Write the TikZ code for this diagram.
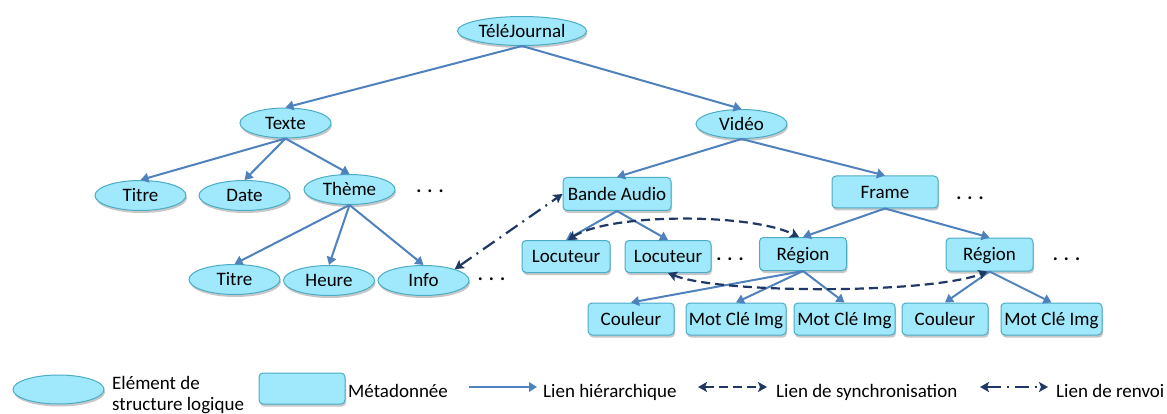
\documentclass[tikz,border=0pt]{standalone}
\usepackage{fontspec}
\setmainfont{Carlito}
\usetikzlibrary{shapes.geometric,arrows.meta,shadows}
\definecolor{nodefill}{HTML}{A0E8FB}
\definecolor{nodedraw}{HTML}{4BACC6}
\definecolor{hier}{HTML}{4F81BD}
\definecolor{navy}{HTML}{1F3864}
\begin{document}
\begin{tikzpicture}[x=1pt,y=-1pt,
  font=\fontsize{19}{21}\selectfont,
  elem/.style={ellipse, draw=nodedraw, fill=nodefill, line width=1pt,
    minimum width=91pt, minimum height=30pt, inner sep=0pt,
    text height=12.2pt, text depth=0pt,
    drop shadow={shadow xshift=1pt, shadow yshift=-2.5pt, fill=black, opacity=0.22}},
  meta/.style={rectangle, rounded corners=4pt, draw=nodedraw, fill=nodefill, line width=1pt,
    minimum height=32pt, inner sep=0pt, text height=12.2pt, text depth=0pt,
    drop shadow={shadow xshift=1pt, shadow yshift=-2.5pt, fill=black, opacity=0.22}},
  hierarrow/.style={draw=hier, line width=2pt, -{Triangle[length=8pt,width=9.5pt]}},
  syncarrow/.style={draw=navy, line width=2.2pt, dash pattern=on 9pt off 5pt,
    {Stealth[length=9pt,width=10pt,inset=2pt]}-{Stealth[length=9pt,width=10pt,inset=2pt]}},
  renvoiarrow/.style={draw=navy, line width=2.2pt, dash pattern=on 14pt off 6pt on 2pt off 6pt,
    {Stealth[length=9pt,width=10pt,inset=2pt]}-{Stealth[length=9pt,width=10pt,inset=2pt]}},
  dotsnode/.style={anchor=base, inner sep=0pt, font=\fontsize{19}{21}\selectfont\bfseries},
  legtext/.style={anchor=base west, inner sep=0pt}]
\useasboundingbox (0,0) rectangle (1167,414);

% logical structure elements
\node[elem, minimum width=129pt, minimum height=29pt] (tj) at (522,31) {TéléJournal};
\node[elem] (texte) at (285.5,123) {Texte};
\node[elem, minimum height=29pt] (video) at (741.5,124) {Vidéo};
\node[elem] (titre1) at (140.5,195.5) {Titre};
\node[elem] (date) at (244.5,195.5) {Date};
\node[elem] (theme) at (349.5,189.5) {Thème};
\node[elem] (titre2) at (234.5,279.5) {Titre};
\node[elem] (heure) at (329,280.5) {Heure};
\node[elem] (info) at (423.5,280.5) {Info};

% metadata
\node[meta, minimum width=108pt, minimum height=33pt] (bande) at (617,194) {Bande Audio};
\node[meta, minimum width=106pt] (frame) at (885,192) {Frame};
\node[meta, minimum width=88pt] (loc1) at (566,256.5) {Locuteur};
\node[meta, minimum width=86pt] (loc2) at (668,256.5) {Locuteur};
\node[meta, minimum width=87pt, minimum height=33pt] (reg1) at (803,254) {Région};
\node[meta, minimum width=87pt, minimum height=33pt] (reg2) at (989.5,254.5) {Région};
\node[meta, minimum width=86pt] (coul1) at (631,319) {Couleur};
\node[meta, minimum width=100pt] (mci1) at (736,319) {Mot Clé Img};
\node[meta, minimum width=101pt] (mci2) at (844.5,319) {Mot Clé Img};
\node[meta, minimum width=86pt] (coul2) at (945,319) {Couleur};
\node[meta, minimum width=101pt] (mci3) at (1051.5,319) {Mot Clé Img};

% ellipses (dots)
\node[dotsnode] (d1) at (430,192.3) {.\hspace{6pt}.\hspace{6pt}.};
\node[dotsnode] (d2) at (491.5,280.3) {.\hspace{6pt}.\hspace{6pt}.};
\node[dotsnode] (d3) at (730,260.3) {.\hspace{6pt}.\hspace{6pt}.};
\node[dotsnode] (d4) at (970,199.3) {.\hspace{6pt}.\hspace{6pt}.};
\node[dotsnode] (d5) at (1066.5,260.3) {.\hspace{6pt}.\hspace{6pt}.};

% hierarchical links
\draw[hierarrow] (tj.south) -- (texte.north);
\draw[hierarrow] (tj.south) -- (video.north);
\draw[hierarrow] (texte.south) -- (titre1.north);
\draw[hierarrow] (texte.south) -- (date.north);
\draw[hierarrow] (texte.south) -- (theme.north);
\draw[hierarrow] (theme.south) -- (titre2.north);
\draw[hierarrow] (theme.south) -- (heure.north);
\draw[hierarrow] (theme.south) -- (info.north);
\draw[hierarrow] (video.south) -- (bande.north);
\draw[hierarrow] (video.south) -- (frame.north);
\draw[hierarrow] (bande.south) -- (loc1.north);
\draw[hierarrow] (bande.south) -- (loc2.north);
\draw[hierarrow] (frame.south) -- (reg1.north);
\draw[hierarrow] (frame.south) -- (reg2.north);
\draw[hierarrow] (reg1.south) -- (coul1.north);
\draw[hierarrow] (reg1.south) -- (mci1.north);
\draw[hierarrow] (reg1.south) -- (mci2.north);
\draw[hierarrow] (reg2.south) -- (coul2.north);
\draw[hierarrow] (reg2.south) -- (mci3.north);

% synchronisation links
\draw[syncarrow] ([xshift=2pt]loc1.north) .. controls (610,213) and (750,213) .. ([xshift=-4pt]reg1.north);
\draw[syncarrow] (loc2.south) .. controls (720,294) and (930,294) .. ([xshift=-2pt]reg2.south);

% renvoi link
\draw[renvoiarrow] (info.20) -- (bande.west);

% legend
\node[elem, minimum width=91pt, minimum height=29pt] (legE) at (58.5,389.5) {};
\node[legtext] (legEt1) at (112,389) {Elément de};
\node[legtext] (legEt2) at (112,410) {structure logique};
\node[meta, minimum width=86pt, minimum height=31pt] (legB) at (302,388.5) {};
\node[legtext] (legBt) at (348,397) {Métadonnée};
\coordinate (h1) at (469,387);
\coordinate (h2) at (537,387);
\draw[hierarrow] (h1) -- (h2);
\node[legtext] (legHt) at (543,397) {Lien hiérarchique};
\coordinate (s1) at (698,387);
\coordinate (s2) at (767,387);
\draw[syncarrow] (s1) -- (s2);
\node[legtext] (legSt) at (776,397) {Lien de synchronisation};
\coordinate (r1) at (980,387);
\coordinate (r2) at (1048,387);
\draw[renvoiarrow] (r1) -- (r2);
\node[legtext] (legRt) at (1056,397) {Lien de renvoi};
\end{tikzpicture}
\end{document}
